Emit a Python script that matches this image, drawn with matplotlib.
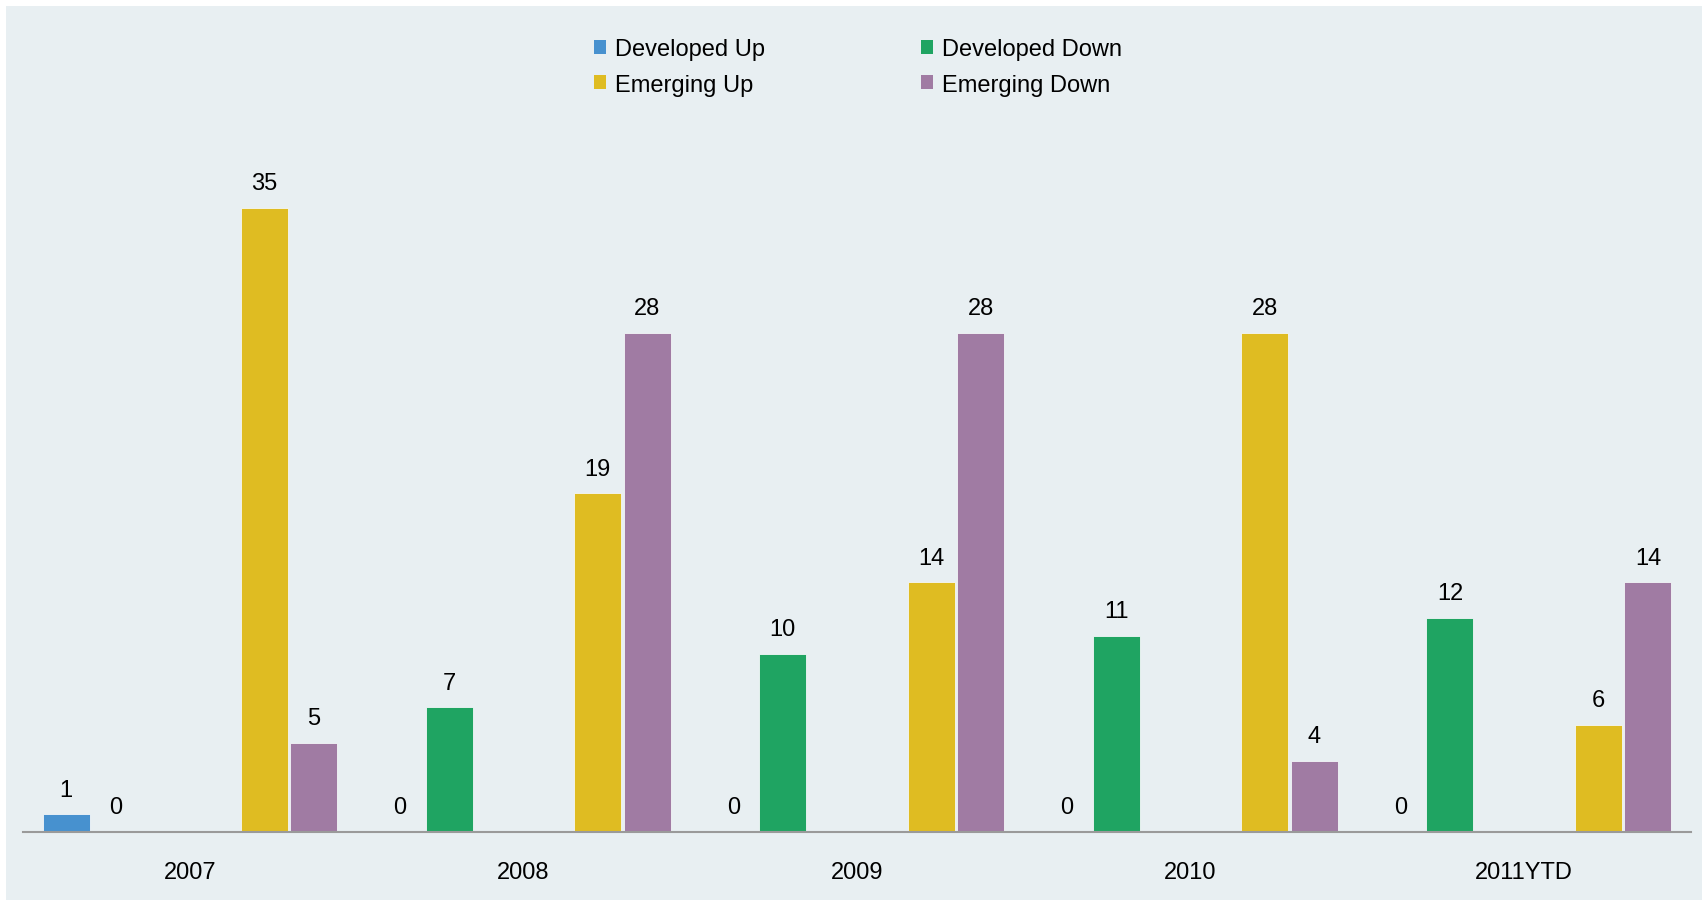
import numpy as np
import matplotlib
matplotlib.use('Agg')
from matplotlib import pyplot as plt
from matplotlib.patches import Rectangle, Patch

plt.rcParams['font.family'] = ['Liberation Sans', 'DejaVu Sans']

years = ['2007', '2008', '2009', '2010', '2011YTD']
series = ['Developed Up', 'Developed Down', 'Emerging Up', 'Emerging Down']
dev_up = [1, 0, 0, 0, 0]
dev_down = [0, 7, 10, 11, 12]
em_up = [35, 19, 14, 28, 6]
em_down = [5, 28, 28, 4, 14]

colors = ['#4791cf', '#1fa462', '#dfbc22', '#a07ba3']
bg = '#e8eff2'

W, H = 1704, 903
fig = plt.figure(figsize=(W / 100, H / 100), dpi=100, facecolor='white')
fig.patches.append(Rectangle((6 / W, 2 / H), 1696 / W, 894 / H, transform=fig.transFigure,
                             facecolor=bg, edgecolor='none', zorder=-1))

ax = fig.add_axes([23 / W, 1 - 833 / H, (1691 - 23) / W, (833 - 119.8) / H])
ax.set_facecolor('none')

# six slots per year, the two middle ones stay empty
slot = 0.1484
margin = (1 - 6 * slot) / 2
slots = [0, 1, 4, 5]
x = np.arange(len(years))
for vals, pos, c in zip([dev_up, dev_down, em_up, em_down], slots, colors):
    xs = x - 0.5 + margin + slot * (pos + 0.5)
    ax.bar(xs, vals, width=slot * 0.95, color=c, edgecolor='#f4f7f8', linewidth=0.6, zorder=2)
    for xi, v in zip(xs, vals):
        ax.annotate(str(v), (xi, v), xytext=(0, 13.4), textcoords='offset points',
                    ha='center', va='baseline', fontsize=17, color='black')

ax.set_xlim(-0.5, len(years) - 0.5)
ax.set_ylim(0, 40)
ax.set_yticks([])
ax.set_xticks(x)
ax.set_xticklabels(years, fontsize=17)
ax.tick_params(axis='x', length=0, pad=21)
for s in ['top', 'right', 'left']:
    ax.spines[s].set_visible(False)
ax.spines['bottom'].set_color('#9a9a9a')
ax.spines['bottom'].set_linewidth(1.5)
ax.spines['bottom'].set_zorder(3)

handles = [Patch(facecolor=c, edgecolor='none') for c in colors]
order = [0, 2, 1, 3]
fig.legend([handles[i] for i in order], [series[i] for i in order], ncol=2,
           loc='center', bbox_to_anchor=(858 / W, 1 - 68 / H), frameon=False,
           fontsize=17, borderpad=0, handlelength=0.51, handleheight=0.51,
           handletextpad=0.38, columnspacing=6.6, labelspacing=0.56)

fig.savefig('out.png', dpi=100, facecolor='white')
